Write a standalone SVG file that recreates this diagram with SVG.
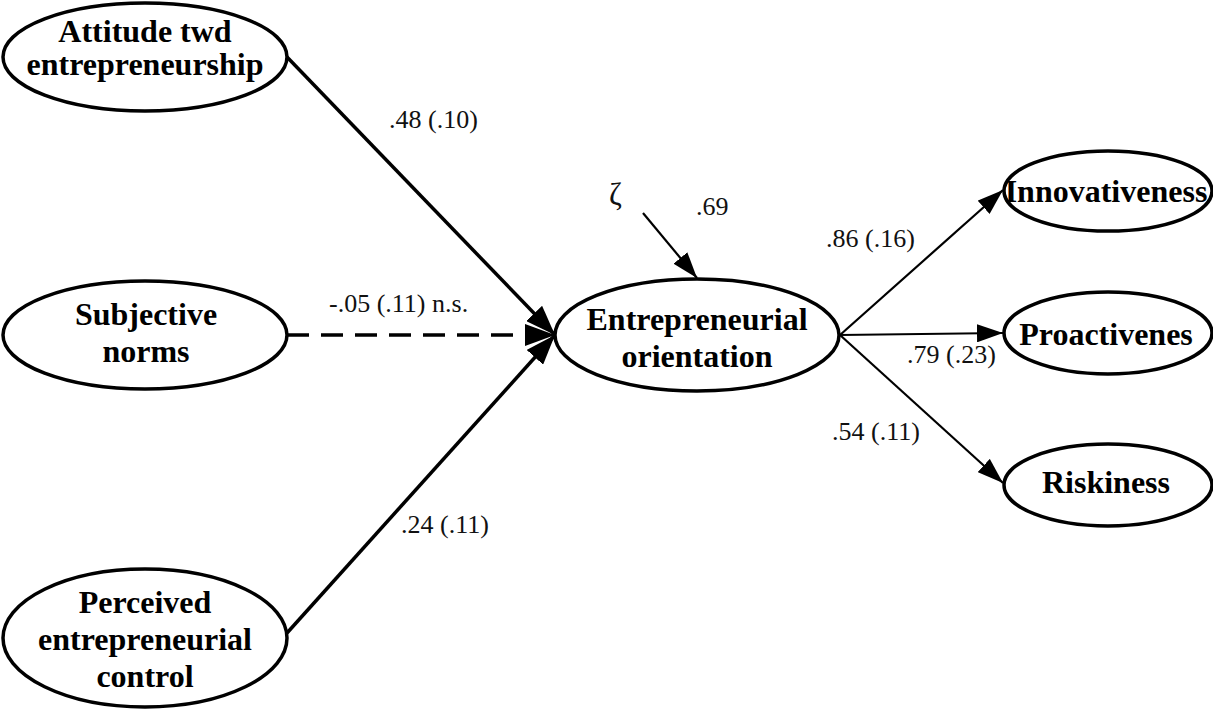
<svg xmlns="http://www.w3.org/2000/svg" width="1213" height="711" viewBox="0 0 1213 711">
  <style>
    .node { fill: #ffffff; stroke: #000000; stroke-width: 3.5; }
    .ntext { font-family: "Liberation Serif", "Times New Roman", serif; font-weight: bold; font-size: 32px; fill: #000000; text-anchor: middle; }
    .lbl { font-family: "Liberation Serif", "Times New Roman", serif; font-size: 26px; fill: #111111; }
    .thick { stroke: #000000; stroke-width: 3.5; fill: none; }
    .thin { stroke: #000000; stroke-width: 2.2; fill: none; }
  </style>
  <defs>
    <marker id="bigHead" markerUnits="userSpaceOnUse" markerWidth="30" markerHeight="22" refX="30" refY="11" orient="auto">
      <path d="M0,0 L30,11 L0,22 z" fill="#000000"/>
    </marker>
    <marker id="smallHead" markerUnits="userSpaceOnUse" markerWidth="26" markerHeight="18" refX="26" refY="9" orient="auto">
      <path d="M0,0 L26,9 L0,18 z" fill="#000000"/>
    </marker>
  </defs>

  <rect x="0" y="0" width="1213" height="711" fill="#ffffff"/>

  <!-- connectors -->
  <g id="connectors">
    <line class="thick" x1="287" y1="57" x2="555" y2="335" marker-end="url(#bigHead)"/>
    <line class="thick" x1="287" y1="335" x2="555" y2="335" stroke-dasharray="22 12" marker-end="url(#bigHead)"/>
    <line class="thick" x1="287" y1="633" x2="555" y2="335" marker-end="url(#bigHead)"/>
    <line class="thin" x1="643" y1="213" x2="697" y2="278" marker-end="url(#smallHead)"/>
    <line class="thin" x1="840" y1="335" x2="1003" y2="190" marker-end="url(#smallHead)"/>
    <line class="thin" x1="840" y1="335" x2="1003" y2="333" marker-end="url(#smallHead)"/>
    <line class="thin" x1="840" y1="335" x2="1003" y2="483" marker-end="url(#smallHead)"/>
  </g>

  <!-- path coefficients -->
  <g id="labels">
    <text class="lbl" x="389" y="128">.48 (.10)</text>
    <text class="lbl" x="329" y="312">-.05 (.11) n.s.</text>
    <text class="lbl" x="401" y="533">.24 (.11)</text>
    <text class="lbl" x="609" y="205" style="font-size:31px">ζ</text>
    <text class="lbl" x="696" y="215">.69</text>
    <text class="lbl" x="826" y="247">.86 (.16)</text>
    <text class="lbl" x="907" y="363">.79 (.23)</text>
    <text class="lbl" x="832" y="440">.54 (.11)</text>
  </g>

  <g id="attitude">
    <ellipse class="node" cx="145" cy="57" rx="142" ry="54"/>
    <text class="ntext" x="145" y="42">Attitude twd</text>
    <text class="ntext" x="145" y="75">entrepreneurship</text>
  </g>

  <g id="subjective-norms">
    <ellipse class="node" cx="145" cy="335" rx="142" ry="54"/>
    <text class="ntext" x="146" y="325">Subjective</text>
    <text class="ntext" x="146" y="362">norms</text>
  </g>

  <g id="perceived-control">
    <ellipse class="node" cx="145" cy="638" rx="142" ry="69"/>
    <text class="ntext" x="145" y="613">Perceived</text>
    <text class="ntext" x="145" y="650">entrepreneurial</text>
    <text class="ntext" x="145" y="687">control</text>
  </g>

  <g id="entrepreneurial-orientation">
    <ellipse class="node" cx="697" cy="335" rx="142" ry="56"/>
    <text class="ntext" x="697" y="330">Entrepreneurial</text>
    <text class="ntext" x="697" y="367">orientation</text>
  </g>

  <g id="innovativeness">
    <ellipse class="node" cx="1108" cy="191" rx="104" ry="40"/>
    <text class="ntext" x="1106" y="202">Innovativeness</text>
  </g>

  <g id="proactiveness">
    <ellipse class="node" cx="1108" cy="333" rx="104" ry="41"/>
    <text class="ntext" x="1106" y="345">Proactivenes</text>
  </g>

  <g id="riskiness">
    <ellipse class="node" cx="1108" cy="485" rx="104" ry="41"/>
    <text class="ntext" x="1106" y="493">Riskiness</text>
  </g>
</svg>
